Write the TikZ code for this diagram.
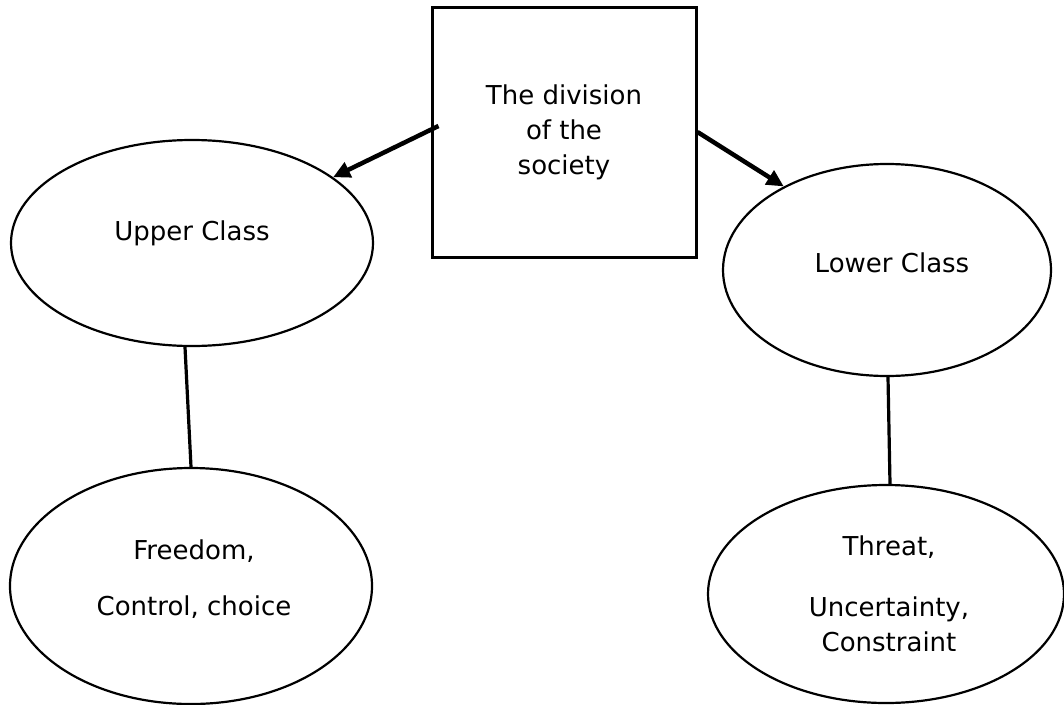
\documentclass[tikz,border=0pt]{standalone}
\usepackage{fontspec}
\setmainfont{DejaVu Sans}
\usetikzlibrary{shapes.geometric,arrows.meta}
\begin{document}
\begin{tikzpicture}[x=1pt,y=-1pt,
  every node/.style={font=\fontsize{26}{35}\selectfont},
  oval/.style={draw, ellipse, line width=2.2pt, inner sep=0pt},
  lbl/.style={align=center, inner sep=0pt},
  arr/.style={line width=4.5pt, -{Triangle[length=17pt,width=16pt]}},
  link/.style={line width=3.2pt}]
\useasboundingbox (0,0) rectangle (1064,704);
% central box
\node[draw, line width=3pt, minimum width=264pt, minimum height=250pt,
      align=center, inner sep=0pt] (box) at (564,132) {The division\\of the\\society};
% ellipses
\node[oval, minimum width=362pt, minimum height=206pt] (upper) at (192,243) {};
\node[oval, minimum width=328pt, minimum height=212pt] (lower) at (887,270) {};
\node[oval, minimum width=362pt, minimum height=236pt] (free) at (191,586) {};
\node[oval, minimum width=356pt, minimum height=218pt] (threat) at (886,594) {};
% labels
\node[lbl] (uppert) at (192,233) {Upper Class};
\node[lbl] (lowert) at (892,263) {Lower Class};
\node[lbl] (freet) at (194,579) {Freedom,\\[21pt]Control, choice};
\node[lbl] (threatt) at (889,594) {Threat,\\[26pt]Uncertainty,\\Constraint};
% connectors
\draw[arr] ([shift={(8,-6)}]box.west) -- (upper.25.6);
\draw[arr] (box.east) -- (lower.141.9);
\draw[link] ([xshift=-7]upper.south) -- (free.north);
\draw[link] ([xshift=1]lower.south) -- ([xshift=4]threat.north);
\end{tikzpicture}
\end{document}
